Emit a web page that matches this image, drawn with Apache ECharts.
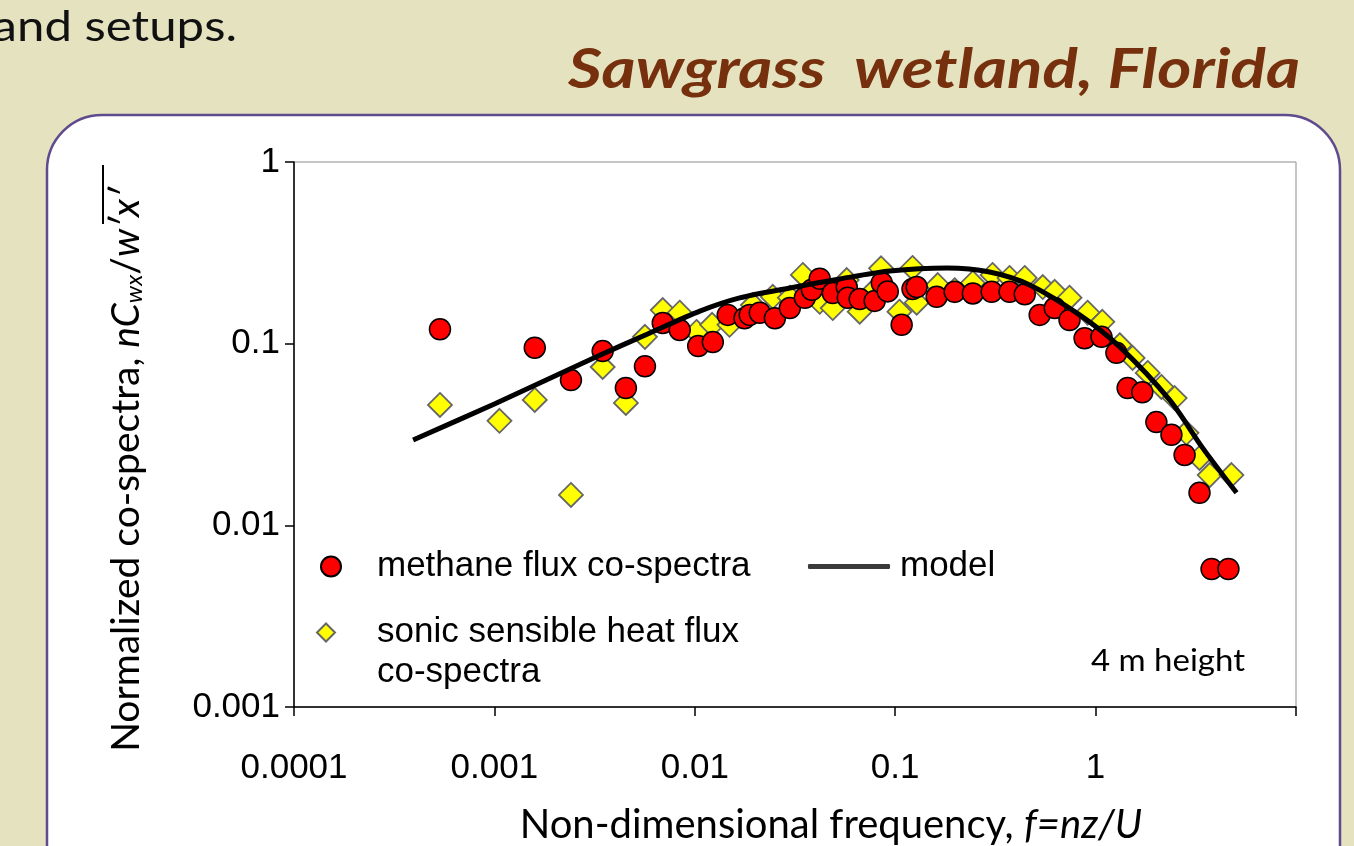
<!DOCTYPE html>
<html><head><meta charset="utf-8">
<script src="https://cdn.jsdelivr.net/npm/echarts@6/dist/echarts.min.js"></script>
<style>html,body{margin:0;padding:0;background:#e5e3bf}#c{width:1354px;height:846px}</style>
</head><body><div id="c"></div>
<script>
// ---- data ----
const xTickLabels = ['0.0001', '0.001', '0.01', '0.1', '1'];
const yTickLabels = ['0.001', '0.01', '0.1', '1'];

const methaneFreq = [0.000535, 0.00159, 0.00241, 0.00347, 0.00453, 0.00564, 0.00692, 0.00841, 0.0104, 0.0123,
  0.0146, 0.0177, 0.0188, 0.0211, 0.0251, 0.0298, 0.0354, 0.0384, 0.042, 0.0488,
  0.0573, 0.058, 0.0665, 0.079, 0.0857, 0.0918, 0.1077, 0.122, 0.128, 0.161,
  0.198, 0.244, 0.303, 0.372, 0.443, 0.526, 0.625, 0.741, 0.881, 1.07,
  1.27, 1.445, 1.71, 2.01, 2.39, 2.78, 3.30, 3.79, 4.60];
const methaneCospec = [0.120, 0.095, 0.063, 0.091, 0.057, 0.075, 0.130, 0.119, 0.097, 0.102,
  0.144, 0.138, 0.144, 0.148, 0.138, 0.157, 0.179, 0.198, 0.228, 0.190,
  0.205, 0.179, 0.176, 0.172, 0.216, 0.194, 0.127, 0.200, 0.205, 0.181,
  0.193, 0.189, 0.193, 0.193, 0.187, 0.144, 0.157, 0.135, 0.107, 0.109,
  0.089, 0.057, 0.054, 0.037, 0.0315, 0.0244, 0.0151, 0.00575, 0.00575];

const heatFreq = [0.000535, 0.00106, 0.00159, 0.00241, 0.00347, 0.00453, 0.00564, 0.00692, 0.00841, 0.0102,
  0.0122, 0.0149, 0.0195, 0.0245, 0.0298, 0.0346, 0.042, 0.0488, 0.0573, 0.0665,
  0.079, 0.085, 0.105, 0.122, 0.128, 0.163, 0.198, 0.244, 0.306, 0.372,
  0.443, 0.545, 0.625, 0.741, 0.912, 1.08, 1.32, 1.53, 1.82, 2.13,
  2.48, 2.84, 3.30, 3.71, 4.76];
const heatCospec = [0.046, 0.0376, 0.049, 0.0147, 0.0744, 0.0472, 0.109, 0.153, 0.148, 0.116,
  0.127, 0.127, 0.163, 0.181, 0.179, 0.239, 0.170, 0.157, 0.224, 0.150,
  0.198, 0.260, 0.150, 0.261, 0.168, 0.210, 0.197, 0.216, 0.239, 0.230,
  0.230, 0.205, 0.193, 0.179, 0.148, 0.132, 0.098, 0.0834, 0.069, 0.0578,
  0.0502, 0.0323, 0.0235, 0.0189, 0.0189];

const modelFreq = [0.000393, 0.001, 0.00313, 0.00597, 0.0106, 0.01675, 0.0298, 0.0528, 0.094, 0.181,
  0.296, 0.469, 0.832, 1.32, 2.34, 3.42, 5.05];
const modelCospec = [0.0295, 0.0466, 0.0834, 0.1145, 0.151, 0.1785, 0.2025, 0.227, 0.251, 0.261,
  0.248, 0.2105, 0.144, 0.096, 0.049, 0.0267, 0.0151];

const pairs = (xs, ys) => xs.map((x, i) => [x, ys[i]]);

const chart = echarts.init(document.getElementById('c'), null, { renderer: 'canvas' });
const AX = 'Liberation Sans, Arial, sans-serif';
const CAL = 'Lato, "Open Sans", sans-serif';

chart.setOption({
  backgroundColor: '#e5e3bf',
  animation: false,
  grid: { left: 294, right: 58, top: 162, bottom: 139, show: true, borderColor: '#8c8c8c', borderWidth: 1,
    backgroundColor: 'transparent', containLabel: false, outerBoundsMode: 'none' },
  xAxis: {
    type: 'log', logBase: 10, min: 0.0001, max: 10,
    name: 'Non-dimensional frequency, {i|f=nz/U}',
    nameLocation: 'middle', nameGap: 98,
    nameTextStyle: { fontFamily: CAL, fontSize: 40, color: '#000', padding: [0, 0, 0, 72],
      rich: { i: { fontFamily: CAL, fontSize: 40, fontStyle: 'italic', color: '#000' } } },
    axisLine: { lineStyle: { color: '#000', width: 1.5 } },
    axisTick: { show: true, inside: false, length: 9, lineStyle: { color: '#000', width: 1.5 } },
    axisLabel: { margin: 44, fontFamily: AX, fontSize: 35, color: '#000',
      formatter: v => { const i = Math.round(Math.log10(v)) + 4; return xTickLabels[i] || ''; } },
    splitLine: { show: false }
  },
  yAxis: {
    type: 'log', logBase: 10, min: 0.001, max: 1,
    name: 'Normalized co-spectra, {i|nC}{s|wx}{n|/}{i|w′x′}',
    nameLocation: 'middle', nameGap: 148,
    nameTextStyle: { fontFamily: CAL, fontSize: 39, color: '#000', padding: [0, 70, 0, 0],
      rich: {
        i: { fontFamily: CAL, fontSize: 39, fontStyle: 'italic', color: '#000' },
        s: { fontFamily: CAL, fontSize: 24, fontStyle: 'italic', color: '#000', padding: [16, 0, 0, 0] },
        n: { fontFamily: CAL, fontSize: 39, color: '#000' }
      } },
    axisLine: { lineStyle: { color: '#000', width: 1.5 } },
    axisTick: { show: true, inside: false, length: 9, lineStyle: { color: '#000', width: 1.5 } },
    axisLabel: { margin: 14, fontFamily: AX, fontSize: 35, color: '#000',
      formatter: v => { const i = Math.round(Math.log10(v)) + 3; return yTickLabels[i] || ''; } },
    splitLine: { show: false }
  },
  legend: [
    { left: 320, top: 549, padding: 0, itemWidth: 20, itemHeight: 20, selectedMode: false,
      textStyle: { fontFamily: AX, fontSize: 35, color: '#000', padding: [0, 0, 0, 31] },
      data: [{ name: 'methane flux co-spectra', icon: 'circle' }] },
    { left: 808, top: 549, padding: 0, itemWidth: 82, itemHeight: 5, selectedMode: false,
      textStyle: { fontFamily: AX, fontSize: 35, color: '#000', padding: [0, 0, 0, 5] },
      data: [{ name: 'model', icon: 'roundRect', itemStyle: { color: '#3a3a3a', borderWidth: 0 } }] },
    { left: 316, top: 575, padding: 0, itemWidth: 18, itemHeight: 18, selectedMode: false,
      formatter: name => '{b| }\n{a|' + name.replace(' co-spectra', '}\n{a|co-spectra') + '}',
      textStyle: { fontFamily: AX, fontSize: 35, color: '#000', padding: [0, 0, 0, 37],
        rich: { a: { fontFamily: AX, fontSize: 35, lineHeight: 40, color: '#000' },
                b: { fontFamily: AX, fontSize: 35, lineHeight: 40 } } },
      data: [{ name: 'sonic sensible heat flux co-spectra', icon: 'diamond' }] }
  ],
  graphic: [
    { type: 'rect', z: -10, shape: { x: 47, y: 115, width: 1293, height: 800, r: 55 },
      style: { fill: '#ffffff', stroke: '#5e4a8c', lineWidth: 2.5 } },
    { type: 'text', x: 237, y: 27, scaleX: 1.17, style: { text: 'and setups.', font: '42px Lato, sans-serif', fill: '#111', align: 'right', verticalAlign: 'middle' } },
    { type: 'text', x: 1300, y: 70, scaleX: 1.19, style: { text: 'Sawgrass  wetland, Florida', font: 'italic bold 55px Lato, sans-serif', fill: '#76300e', align: 'right', verticalAlign: 'middle' } },
    { type: 'text', x: 1245, y: 661, scaleX: 1.1, style: { text: '4 m height', font: '30px Lato, sans-serif', fill: '#000', align: 'right', verticalAlign: 'middle' } },
    { type: 'line', shape: { x1: 103, y1: 165, x2: 103, y2: 224 }, style: { stroke: '#000', lineWidth: 2 } }
  ],
  series: [
    { name: 'sonic sensible heat flux co-spectra', type: 'scatter', symbol: 'diamond', symbolSize: 24,
      itemStyle: { color: '#ffff00', borderColor: '#666666', borderWidth: 1.8, opacity: 1 },
      data: pairs(heatFreq, heatCospec), z: 2 },
    { name: 'methane flux co-spectra', type: 'scatter', symbol: 'circle', symbolSize: 21,
      itemStyle: { color: '#ff0000', borderColor: '#000000', borderWidth: 1.5, opacity: 1 },
      data: pairs(methaneFreq, methaneCospec), z: 3 },
    { name: 'model', type: 'line', smooth: 0.3, showSymbol: false, symbol: 'none',
      lineStyle: { color: '#000', width: 5 },
      data: pairs(modelFreq, modelCospec), z: 4 }
  ]
});
</script></body></html>
